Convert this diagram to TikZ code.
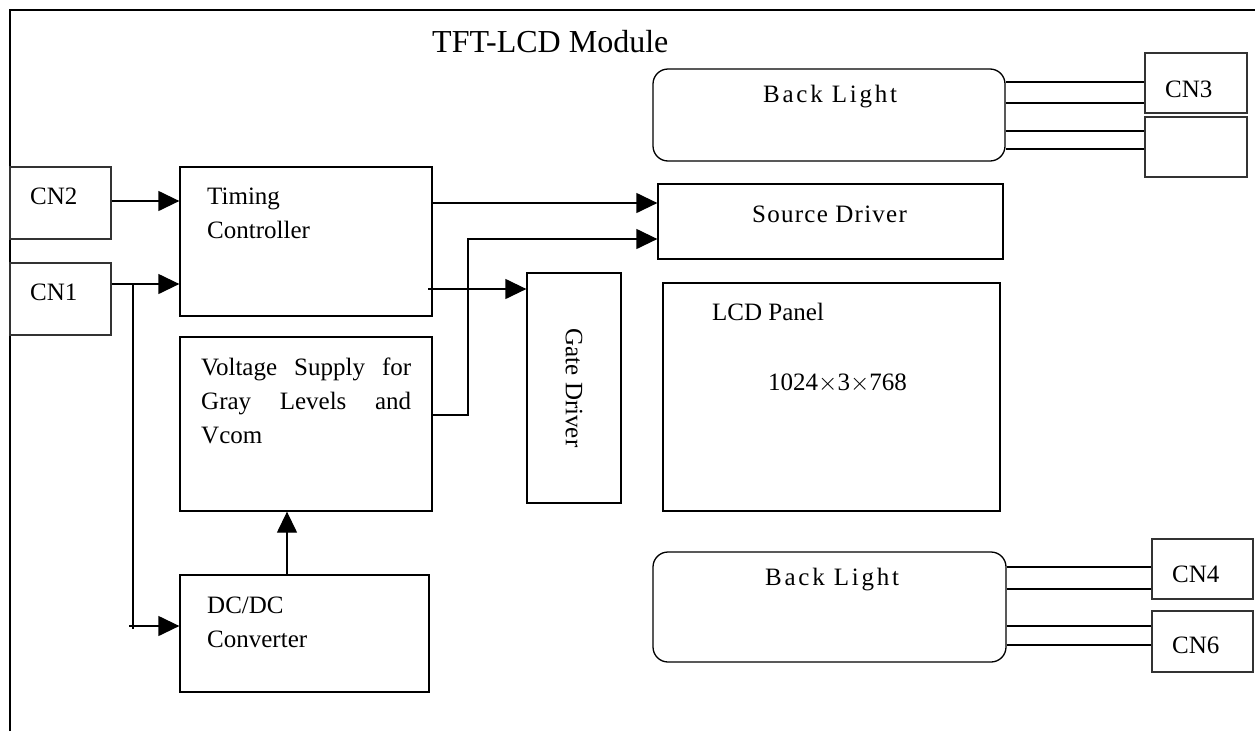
\documentclass[tikz,border=0pt]{standalone}
\usepackage{fontspec}
\setmainfont{Liberation Serif}
\newfontfamily\widefont[LetterSpace=11]{Liberation Serif}
\newfontfamily\srcfont[LetterSpace=5]{Liberation Serif}
\usepackage{tikz}
\usetikzlibrary{arrows.meta}

\tikzset{
  box/.style={draw, line width=1.3pt, inner sep=0pt},
  cnbox/.style={draw=black!80, line width=1.3pt, inner sep=0pt},
  lamp/.style={draw, line width=1.3pt, rounded corners=15pt, inner sep=0pt},
  txt/.style={anchor=base west, inner sep=0pt, font=\fontsize{25}{34}\selectfont},
  arr/.style={line width=1.3pt, -{Triangle[length=21pt,width=20pt]}},
  wire/.style={line width=1.3pt}
}

\begin{document}
\begin{tikzpicture}[x=1pt,y=-1pt]
\useasboundingbox (0,0) rectangle (1255,731);
\draw[wire] (10,731) -- (10,10) -- (1255,10); % module frame
\node[anchor=base west, inner sep=0pt, font=\fontsize{32}{38}\selectfont] (title) at (432,52) {TFT-LCD Module};

% connectors on the left
\node[cnbox, minimum width=101pt, minimum height=72pt] (cn2) at (60.5,203) {};
\node[cnbox, minimum width=101pt, minimum height=72pt] (cn1) at (60.5,299) {};
\node[txt] (cn2-t) at (30,204) {CN2};
\node[txt] (cn1-t) at (30,300) {CN1};

% blocks (multi-line texts sit on the baseline of their last line)
\node[box, minimum width=252pt, minimum height=149pt] (tcon) at (306,241.5) {};
\node[txt, align=left] (tcon-t) at (207,238) {Timing\\Controller};
\node[box, minimum width=252pt, minimum height=174pt] (vsup) at (306,424) {};
\node[txt, align=left] (vsup-t) at (201,443) {\makebox[210pt][s]{Voltage Supply for}\\\makebox[210pt][s]{Gray Levels and}\\Vcom};
\node[box, minimum width=249pt, minimum height=117pt] (dcdc) at (304.5,633.5) {};
\node[txt, align=left] (dcdc-t) at (207,647) {DC/DC\\Converter};
\node[box, minimum width=94pt, minimum height=230pt] (gate) at (574,388) {};
\node[inner sep=0pt, rotate=-90, font=\fontsize{25}{34}\selectfont] (gate-t) at (574,388) {Gate Driver};
\node[box, minimum width=345pt, minimum height=75pt] (src) at (830.5,221.5) {};
\node[txt, font=\fontsize{25}{34}\srcfont] (src-t) at (752,222) {Source Driver};
\node[box, minimum width=337pt, minimum height=228pt] (panel) at (831.5,397) {};
\node[txt] (panel-t) at (712,320) {LCD Panel};
\node[txt] (res-t) at (768,390) {1024$\times$3$\times$768};

% back lights and their connectors
\node[lamp, minimum width=352pt, minimum height=92pt] (blt) at (829,115) {};
\node[txt, font=\fontsize{25}{34}\widefont] (blt-t) at (763,102) {Back Light};
\node[lamp, minimum width=353pt, minimum height=110pt] (blb) at (829.5,607) {};
\node[txt, font=\fontsize{25}{34}\widefont] (blb-t) at (765,585) {Back Light};
\node[cnbox, minimum width=102pt, minimum height=60pt] (cn3) at (1196,83) {};
\node[cnbox, minimum width=102pt, minimum height=60pt] (cn3b) at (1196,147) {};
\node[cnbox, minimum width=101pt, minimum height=60pt] (cn4) at (1202.5,569) {};
\node[cnbox, minimum width=101pt, minimum height=61pt] (cn6) at (1202.5,641.5) {};
\node[txt] (cn3-t) at (1165,97) {CN3};
\node[txt] (cn4-t) at (1172,582) {CN4};
\node[txt] (cn6-t) at (1172,653) {CN6};

\foreach \y in {82,103}
  \draw[wire] (blt.east |- 0,\y) -- (cn3.west |- 0,\y);
\foreach \y in {131,149}
  \draw[wire] (blt.east |- 0,\y) -- (cn3b.west |- 0,\y);
\foreach \y in {567,589}
  \draw[wire] (blb.east |- 0,\y) -- (cn4.west |- 0,\y);
\foreach \y in {626,645}
  \draw[wire] (blb.east |- 0,\y) -- (cn6.west |- 0,\y);

% signal paths
\coordinate (split) at (133,284);
\coordinate (bend) at (468,415);
\draw[arr] (cn2.east |- 0,201) -- (tcon.west |- 0,201);
\draw[arr] (cn1.east |- split) -- (tcon.west |- split);
\draw[wire] (split) -- (133,629);
\draw[arr] (129,626) -- (dcdc.west |- 0,626);
\draw[arr] (dcdc.north -| 287,0) -- (vsup.south -| 287,0);
\draw[arr] (tcon.east |- 0,203) -- (src.west |- 0,203);
\draw[arr] (428,289) -- (gate.west |- 0,289);
\draw[arr] (vsup.east |- bend) -- (bend) |- (src.west |- 0,239);
\end{tikzpicture}
\end{document}
